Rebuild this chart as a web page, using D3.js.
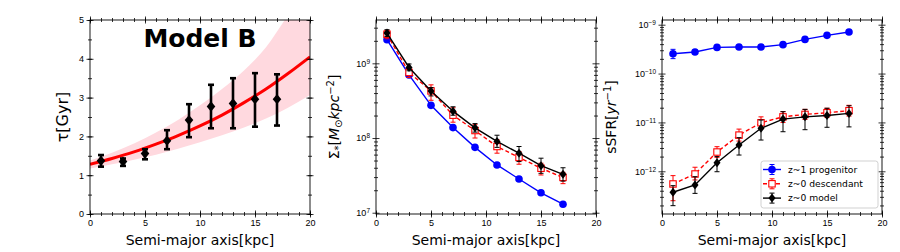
<!DOCTYPE html>
<html>
<head>
<meta charset="utf-8">
<script src="https://cdn.jsdelivr.net/npm/d3@7"></script>
<style>
  body { margin: 0; background: #fff; }
  svg { font-family: "DejaVu Sans", sans-serif; display: block; }
  .tick text { font-size: 9px; fill: #000; }
  .tick line { stroke: #000; stroke-width: 0.8; }
</style>
</head>
<body>
<div class="vis"></div>
<script>
// radial bins (kpc)
const radius = [1, 3, 5, 7, 9, 11, 13, 15, 17];

// panel 1: tau
const tau = [1.37, 1.35, 1.56, 1.89, 2.42, 2.77, 2.85, 2.96, 2.96];
const tauLow = [1.22, 1.24, 1.41, 1.67, 1.98, 2.21, 2.21, 2.25, 2.28];
const tauHigh = [1.52, 1.43, 1.67, 2.16, 2.83, 3.33, 3.50, 3.63, 3.60];
const fitX = [0, 2, 4, 6, 8, 10, 12, 14, 16, 18, 20];
const fitY = [1.28, 1.43, 1.60, 1.80, 2.02, 2.27, 2.55, 2.87, 3.22, 3.62, 4.05];
const bandLow = [1.17, 1.28, 1.40, 1.53, 1.68, 1.85, 2.03, 2.23, 2.46, 2.74, 3.07];
const bandHigh = [1.38, 1.58, 1.82, 2.10, 2.42, 2.80, 3.22, 3.70, 4.30, 5.12, 5.90];

// panel 2: stellar mass surface density
const sigmaProg = [2.07e9, 7.0e8, 2.74e8, 1.38e8, 7.5e7, 4.36e7, 2.83e7, 1.85e7, 1.30e7];
const sigmaDesc = [2.45e9, 7.55e8, 4.27e8, 2.02e8, 1.26e8, 7.7e7, 5.5e7, 3.94e7, 2.97e7];
const sigmaDescLow = [2.13e9, 6.45e8, 3.2e8, 1.63e8, 1.0e8, 6.27e7, 4.46e7, 3.2e7, 2.45e7];
const sigmaDescHigh = [2.76e9, 8.4e8, 5.15e8, 2.54e8, 1.51e8, 9.5e7, 6.6e7, 4.6e7, 3.47e7];
const sigmaModel = [2.54e9, 8.8e8, 4.27e8, 2.29e8, 1.37e8, 9.0e7, 6.27e7, 4.27e7, 3.27e7];
const sigmaModelLow = [2.29e9, 7.95e8, 3.66e8, 2.02e8, 1.2e8, 7.5e7, 4.84e7, 3.37e7, 2.65e7];
const sigmaModelHigh = [2.82e9, 9.8e8, 4.74e8, 2.62e8, 1.56e8, 1.09e8, 7.7e7, 5.37e7, 4.0e7];

// panel 3: specific star formation rate
const ssfrProg = [2.55e-10, 2.76e-10, 3.43e-10, 3.49e-10, 3.49e-10, 3.9e-10, 5.0e-10, 6.05e-10, 7.08e-10];
const ssfrProgLow = [2.02e-10, 2.55e-10, 3.2e-10, 3.25e-10, 3.25e-10, 3.65e-10, 4.6e-10, 5.6e-10, 6.6e-10];
const ssfrProgHigh = [3.13e-10, 3.0e-10, 3.7e-10, 3.75e-10, 3.75e-10, 4.2e-10, 5.45e-10, 6.55e-10, 7.6e-10];
const ssfrDesc = [5.5e-13, 8.8e-13, 2.48e-12, 5.5e-12, 9.85e-12, 1.3e-11, 1.46e-11, 1.58e-11, 1.74e-11];
const ssfrDescLow = [2.5e-13, 6.65e-13, 1.93e-12, 4.15e-12, 7.4e-12, 1.0e-11, 1.15e-11, 1.26e-11, 1.35e-11];
const ssfrDescHigh = [8.15e-13, 1.21e-12, 3.19e-12, 7.3e-12, 1.3e-11, 1.66e-11, 1.85e-11, 1.95e-11, 2.24e-11];
const ssfrModel = [3.72e-13, 5.25e-13, 1.5e-12, 3.45e-12, 7.58e-12, 1.17e-11, 1.3e-11, 1.39e-11, 1.53e-11];
const ssfrModelLow = [1.98e-13, 3.53e-13, 9.8e-13, 2.15e-12, 4.36e-12, 6.45e-12, 7.1e-12, 7.95e-12, 8.1e-12];
const ssfrModelHigh = [5.08e-13, 7.76e-13, 2.0e-12, 4.88e-12, 1.12e-11, 1.66e-11, 1.85e-11, 1.95e-11, 2.19e-11];

// ticks and labels
const xTicks = [0, 5, 10, 15, 20];
const xMinor = d3.range(0, 21, 1);
const tauTicks = [0, 1, 2, 3, 4, 5];
const tauMinor = d3.range(0, 5.01, 0.5);
const sigmaTicks = [7, 8, 9];
const ssfrTicks = [-12, -11, -10, -9];
const legendLabels = ["z~1 progenitor", "z~0 descendant", "z~0 model"];
const xLabel = "Semi-major axis[kpc]";

const W = 900, H = 252;
const plotTop = 20, plotBottom = 214, pw = 220;
const lefts = [90, 376, 662];
const h = plotBottom - plotTop;

const svg = d3.select(".vis").append("svg").attr("width", W).attr("height", H);

const logMinor = (lo, hi) => {
  let out = [];
  for (let e = Math.floor(lo); e <= Math.ceil(hi); e++)
    for (let m = 2; m <= 9; m++) out.push(m * Math.pow(10, e));
  return out;
};

// draw axes on all four sides with ticks crossing the frame
const frame = (g, x, y, yMajor, yMinorV, yFmt) => {
  const sides = [
    { ax: d3.axisBottom(x), t: `translate(0,${h})`, major: xTicks, minor: xMinor, lab: true, vert: false },
    { ax: d3.axisTop(x), t: "translate(0,0)", major: xTicks, minor: xMinor, lab: false, vert: false },
    { ax: d3.axisLeft(y), t: "translate(0,0)", major: yMajor, minor: yMinorV, lab: true, vert: true },
    { ax: d3.axisRight(y), t: `translate(${pw},0)`, major: yMajor, minor: yMinorV, lab: false, vert: true }
  ];
  sides.forEach((s) => {
    const mn = g.append("g").attr("transform", s.t)
      .call(s.ax.tickValues(s.minor).tickSize(2).tickFormat(""));
    mn.select(".domain").remove();
    mn.selectAll(".tick line").attr(s.vert ? "x1" : "y1", function () {
      return -d3.select(this).attr(s.vert ? "x2" : "y2");
    });
    const mj = g.append("g").attr("transform", s.t)
      .call(s.ax.tickValues(s.major).tickSize(3.5).tickPadding(2.5)
        .tickFormat(s.lab ? (s.vert ? (yFmt || (() => "")) : d3.format("d")) : ""));
    mj.select(".domain").remove();
    mj.selectAll(".tick line").attr(s.vert ? "x1" : "y1", function () {
      return -d3.select(this).attr(s.vert ? "x2" : "y2");
    });
    if (s.lab && s.vert && yFmt === null) {
      mj.selectAll(".tick text").each(function (d) {
        const e = Math.round(Math.log10(d));
        const t = d3.select(this).text("10");
        t.append("tspan").attr("dy", "-0.45em").attr("font-size", "6.5px")
          .text(String(e).replace("-", "\u2212"));
      });
    }
  });
  g.append("rect").attr("width", pw).attr("height", h)
    .attr("fill", "none").attr("stroke", "#000").attr("stroke-width", 0.9);
  g.append("text").attr("x", pw / 2).attr("y", 224.5).attr("text-anchor", "middle")
    .attr("font-size", "14px").text(xLabel);
};

const errorBars = (g, x, y, vals, lo, hi, color, width, cap) => {
  const eb = g.append("g");
  eb.selectAll("line.bar").data(radius).join("line").attr("class", "bar")
    .attr("x1", (d) => x(d)).attr("x2", (d) => x(d))
    .attr("y1", (d, i) => y(lo[i])).attr("y2", (d, i) => y(hi[i]))
    .attr("stroke", color).attr("stroke-width", width);
  [lo, hi].forEach((arr) => {
    eb.append("g").selectAll("line").data(radius).join("line")
      .attr("x1", (d) => x(d) - cap).attr("x2", (d) => x(d) + cap)
      .attr("y1", (d, i) => y(arr[i])).attr("y2", (d, i) => y(arr[i]))
      .attr("stroke", color).attr("stroke-width", width);
  });
};

const diamond = (hw, hh) => `M0,${-hh}L${hw},0L0,${hh}L${-hw},0Z`;

const series = (g, x, y, vals, style) => {
  const line = d3.line().x((d, i) => x(radius[i])).y((d) => y(d));
  g.append("path").datum(vals).attr("d", line).attr("fill", "none")
    .attr("stroke", style.color).attr("stroke-width", 1.4)
    .attr("stroke-dasharray", style.dash || null);
  if (style.lo) errorBars(g, x, y, vals, style.lo, style.hi, style.color, 1, 2.5);
  const m = g.append("g").selectAll("g").data(vals).join("g")
    .attr("transform", (d, i) => `translate(${x(radius[i])},${y(d)})`);
  if (style.marker === "circle")
    m.append("circle").attr("r", 3.8).attr("fill", style.color);
  else if (style.marker === "square")
    m.append("rect").attr("x", -3.2).attr("y", -3.2).attr("width", 6.4).attr("height", 6.4)
      .attr("fill", "#fff").attr("stroke", style.color).attr("stroke-width", 1.1);
  else
    m.append("path").attr("d", diamond(3.5, 4.5)).attr("fill", style.color);
};

// ---------- panel 1 ----------
{
  const g = svg.append("g").attr("transform", `translate(${lefts[0]},${plotTop})`);
  const x = d3.scaleLinear().domain([0, 20]).range([0, pw]);
  const y = d3.scaleLinear().domain([0, 5]).range([h, 0]);
  g.append("clipPath").attr("id", "clip1").append("rect").attr("width", pw).attr("height", h);
  const inner = g.append("g").attr("clip-path", "url(#clip1)");
  const area = d3.area().x((d, i) => x(fitX[i])).y0((d, i) => y(bandLow[i])).y1((d) => y(d))
    .curve(d3.curveMonotoneX);
  inner.append("path").datum(bandHigh).attr("d", area).attr("fill", "#ffd9df");
  inner.append("path").datum(fitY)
    .attr("d", d3.line().x((d, i) => x(fitX[i])).y((d) => y(d)).curve(d3.curveMonotoneX))
    .attr("fill", "none").attr("stroke", "#ff0000").attr("stroke-width", 3);
  errorBars(g, x, y, tau, tauLow, tauHigh, "#000", 2.6, 3);
  g.append("g").selectAll("path").data(tau).join("path")
    .attr("transform", (d, i) => `translate(${x(radius[i])},${y(d)})`)
    .attr("d", diamond(4.3, 5.2)).attr("fill", "#000");
  frame(g, x, y, tauTicks, tauMinor, d3.format("d"));
  g.append("text").attr("x", pw / 2).attr("y", 27).attr("text-anchor", "middle")
    .attr("font-size", "25px").attr("font-weight", "bold").text("Model B");
  g.append("text").attr("transform", `translate(${-22},${h / 2}) rotate(-90)`)
    .attr("text-anchor", "middle").attr("font-size", "16px").text("\u03c4[Gyr]");
}

// ---------- panel 2 ----------
{
  const g = svg.append("g").attr("transform", `translate(${lefts[1]},${plotTop})`);
  const x = d3.scaleLinear().domain([0, 20]).range([0, pw]);
  const y = d3.scaleLog().domain([Math.pow(10, 6.983), Math.pow(10, 9.58)]).range([h, 0]);
  series(g, x, y, sigmaProg, { color: "#0000ff", marker: "circle" });
  series(g, x, y, sigmaDesc, { color: "#ff0000", marker: "square", dash: "4,2.5", lo: sigmaDescLow, hi: sigmaDescHigh });
  series(g, x, y, sigmaModel, { color: "#000", marker: "diamond", lo: sigmaModelLow, hi: sigmaModelHigh });
  const minor = logMinor(6, 9).filter((v) => v > y.domain()[0] && v < y.domain()[1]);
  frame(g, x, y, sigmaTicks.map((e) => Math.pow(10, e)), minor, null);
  const lab = g.append("text").attr("transform", `translate(${-37},${h / 2}) rotate(-90)`)
    .attr("text-anchor", "middle").attr("font-size", "14px");
  lab.append("tspan").text("\u03a3");
  lab.append("tspan").attr("font-size", "10px").attr("dy", "3").text("*");
  lab.append("tspan").attr("dy", "-3").text("[");
  lab.append("tspan").attr("font-style", "italic").text("M");
  lab.append("tspan").attr("font-size", "10px").attr("dy", "3").text("\u2299");
  lab.append("tspan").attr("dy", "-3").attr("font-style", "italic").text("kpc");
  lab.append("tspan").attr("font-size", "10px").attr("dy", "-5").text("\u22122");
  lab.append("tspan").attr("dy", "5").text("]");
}

// ---------- panel 3 ----------
{
  const g = svg.append("g").attr("transform", `translate(${lefts[2]},${plotTop})`);
  const x = d3.scaleLinear().domain([0, 20]).range([0, pw]);
  const y = d3.scaleLog().domain([Math.pow(10, -12.874), Math.pow(10, -8.904)]).range([h, 0]);
  series(g, x, y, ssfrProg, { color: "#0000ff", marker: "circle", lo: ssfrProgLow, hi: ssfrProgHigh });
  series(g, x, y, ssfrDesc, { color: "#ff0000", marker: "square", dash: "4,2.5", lo: ssfrDescLow, hi: ssfrDescHigh });
  series(g, x, y, ssfrModel, { color: "#000", marker: "diamond", lo: ssfrModelLow, hi: ssfrModelHigh });
  const minor = logMinor(-13, -9).filter((v) => v > y.domain()[0] && v < y.domain()[1]);
  frame(g, x, y, ssfrTicks.map((e) => Math.pow(10, e)), minor, null);
  const lab = g.append("text").attr("transform", `translate(${-46},${h / 2}) rotate(-90)`)
    .attr("text-anchor", "middle").attr("font-size", "14px");
  lab.append("tspan").text("sSFR[");
  lab.append("tspan").attr("font-style", "italic").text("yr");
  lab.append("tspan").attr("font-size", "10px").attr("dy", "-5").text("\u22121");
  lab.append("tspan").attr("dy", "5").text("]");

  // legend
  const lg = g.append("g").attr("transform", "translate(99,141)");
  lg.append("rect").attr("width", 117).attr("height", 47).attr("rx", 2.5)
    .attr("fill", "#fff").attr("fill-opacity", 0.8).attr("stroke", "#ccc").attr("stroke-width", 0.9);
  const styles = [
    { color: "#0000ff", marker: "circle" },
    { color: "#ff0000", marker: "square", dash: "4,2.5" },
    { color: "#000", marker: "diamond" }
  ];
  const rows = lg.selectAll("g.row").data(legendLabels).join("g").attr("class", "row")
    .attr("transform", (d, i) => `translate(0,${8.5 + i * 14.3})`);
  rows.append("line").attr("x1", 2).attr("x2", 20).attr("stroke", (d, i) => styles[i].color)
    .attr("stroke-width", 1.4).attr("stroke-dasharray", (d, i) => styles[i].dash || null);
  rows.append("line").attr("x1", 11).attr("x2", 11).attr("y1", -5).attr("y2", 5)
    .attr("stroke", (d, i) => styles[i].color);
  rows.each(function (d, i) {
    const r = d3.select(this), s = styles[i];
    r.append("line").attr("x1", 8.5).attr("x2", 13.5).attr("y1", -5).attr("y2", -5).attr("stroke", s.color);
    r.append("line").attr("x1", 8.5).attr("x2", 13.5).attr("y1", 5).attr("y2", 5).attr("stroke", s.color);
    if (s.marker === "circle") r.append("circle").attr("cx", 11).attr("r", 3.8).attr("fill", s.color);
    else if (s.marker === "square")
      r.append("rect").attr("x", 7.8).attr("y", -3.2).attr("width", 6.4).attr("height", 6.4)
        .attr("fill", "#fff").attr("stroke", s.color).attr("stroke-width", 1.1);
    else r.append("path").attr("transform", "translate(11,0)").attr("d", diamond(3.5, 4.5)).attr("fill", s.color);
  });
  rows.append("text").attr("x", 27).attr("y", 3.3).attr("font-size", "9.2px").text((d) => d);
}
</script>
</body>
</html>
